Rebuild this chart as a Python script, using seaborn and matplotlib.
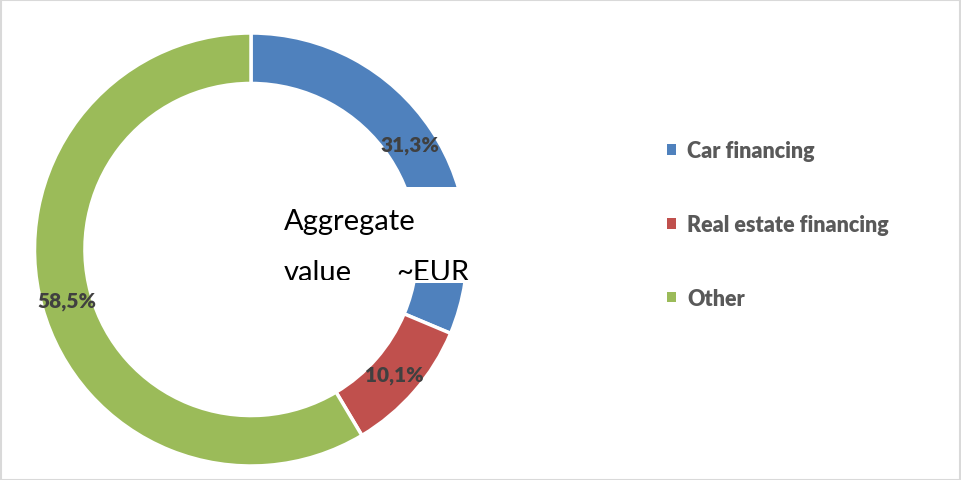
import matplotlib
matplotlib.use("Agg")
import matplotlib.pyplot as plt
from matplotlib.patches import Patch, Rectangle
import seaborn as sns

categories = ["Car financing", "Real estate financing", "Other"]
values = [31.3, 10.1, 58.5]
label_texts = ["31,3%", "10,1%", "58,5%"]
colors = ["#4F81BD", "#C0504D", "#9BBB59"]
center_lines = ["Aggregate", "value", "~EUR"]

sns.set_theme(style="white")
plt.rcParams["font.family"] = ["Lato", "DejaVu Sans"]

W, H = 961, 481
fig = plt.figure(figsize=(W / 100, H / 100), dpi=100)
fig.patch.set_facecolor("white")

# donut axes: center (251, 250.5) px, radius 216.5 px
cx, cy, R = 251, 250.5, 216.5
ax = fig.add_axes([(cx - R) / W, (H - cy - R) / H, 2 * R / W, 2 * R / H])
pal = sns.color_palette(colors)
wedges, texts = ax.pie(
    values, colors=pal, startangle=90, counterclock=False, radius=1.0,
    labels=label_texts, labeldistance=0.88,
    wedgeprops=dict(width=0.233, edgecolor="white", linewidth=2.5),
)
for t in texts:
    t.set_ha("center")
    t.set_va("center")
    t.set_fontsize(15)
    t.set_fontweight("heavy")
    t.set_color("#404040")
ax.set_xlim(-1, 1)
ax.set_ylim(-1, 1)
ax.set_aspect("equal")
ax.axis("off")

# white text box over the donut
def fx(px):
    return px / W

def fy(py):
    return 1 - py / H

box = Rectangle((fx(278), fy(284)), fx(480) - fx(278), fy(188) - fy(284),
                transform=fig.transFigure, facecolor="white", edgecolor="none", zorder=5)
fig.patches.append(box)
clip = Rectangle((fx(278), fy(281)), fx(480) - fx(278), fy(188) - fy(281),
                 transform=fig.transFigure, facecolor="none", edgecolor="none")
t1 = fig.text(fx(284), fy(230), center_lines[0], fontsize=21, color="black",
              ha="left", va="baseline", zorder=6)
t2 = fig.text(fx(284), fy(281), center_lines[1], fontsize=21, color="black",
              ha="left", va="baseline", zorder=6)
t3 = fig.text(fx(396), fy(281), center_lines[2], fontsize=21, color="black",
              ha="left", va="baseline", zorder=6)
for t in (t1, t2, t3):
    t.set_clip_path(clip)
    t.set_clip_on(True)

# legend
handles = [Patch(facecolor=c, edgecolor="none") for c in pal]
leg = fig.legend(handles, categories, loc="center left",
                 bbox_to_anchor=(fx(667), fy(225.5)), frameon=False,
                 prop=dict(family=["Lato", "DejaVu Sans"], weight="heavy", size=15.5),
                 labelcolor="#595959", handlelength=0.4, handleheight=0.4,
                 handletextpad=0.55, labelspacing=2.45, borderaxespad=0, borderpad=0)

# figure border
border = Rectangle((0.001, 0.001), 0.998, 0.997, transform=fig.transFigure,
                   facecolor="none", edgecolor="#d9d9d9", linewidth=1.5, zorder=10)
fig.patches.append(border)

fig.savefig("out.png", dpi=100, facecolor="white")
